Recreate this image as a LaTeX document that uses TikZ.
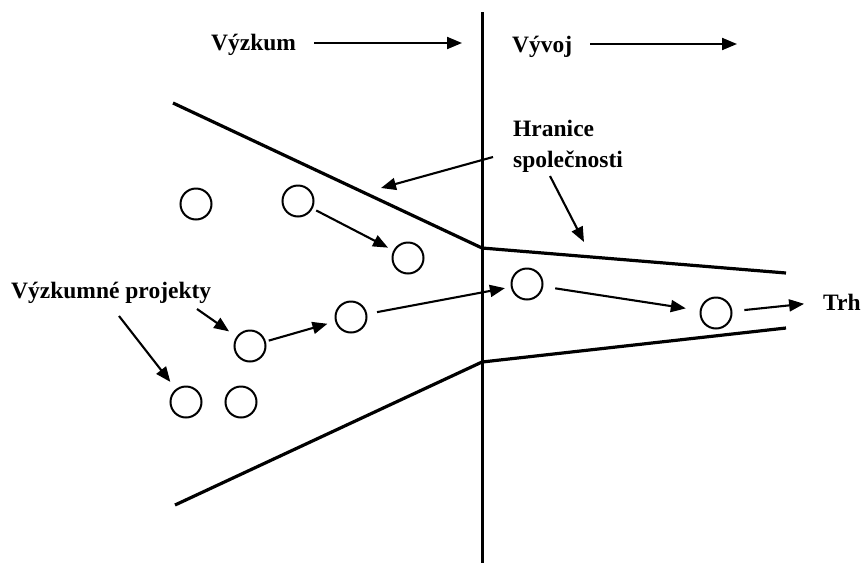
\documentclass[tikz,border=0pt]{standalone}
\usepackage{fontspec}
\setmainfont{Liberation Serif}
\usetikzlibrary{arrows.meta}
\begin{document}
\begin{tikzpicture}[x=1pt,y=-1pt,
  lbl/.style={font=\bfseries\fontsize{23.5}{31}\selectfont, inner sep=0pt, anchor=base west},
  proj/.style={circle, draw, line width=2pt, minimum size=31pt, inner sep=0pt},
  bound/.style={line width=3.2pt, line join=miter},
  arr/.style={line width=2.1pt, -{Triangle[length=15pt,width=12pt]}}]
\useasboundingbox (0,0) rectangle (864,563);

% dividing line between research and development
\coordinate (divTop) at (482,12);
\coordinate (divBot) at (482,563);
\draw[line width=3pt] (divTop) -- (divBot);

% company boundary (funnel)
\coordinate (upL) at (173,103);
\coordinate (upM) at (482,248);
\coordinate (upR) at (786,273);
\coordinate (loL) at (175,505);
\coordinate (loM) at (482,362);
\coordinate (loR) at (786,328);
\draw[bound] (upL) -- (upM) -- (upR);
\draw[bound] (loL) -- (loM) -- (loR);

% phase labels with their direction arrows
\node[lbl] (vyzkum) at (211,50) {Výzkum};
\node[lbl] (vyvoj) at (512,52) {Vývoj};
\coordinate (vyzkumStart) at (314,43);
\coordinate (vyzkumEnd) at (462,43);
\coordinate (vyvojStart) at (590,44);
\coordinate (vyvojEnd) at (737,44);
\draw[arr] (vyzkumStart) -- (vyzkumEnd);
\draw[arr] (vyvojStart) -- (vyvojEnd);

% projects
\node[proj] (p1) at (196,204) {};
\node[proj] (p2) at (298,201) {};
\node[proj] (p3) at (408,258) {};
\node[proj] (p4) at (250,346) {};
\node[proj] (p5) at (351,317) {};
\node[proj] (p6) at (527,284) {};
\node[proj] (p7) at (716,313) {};
\node[proj] (p8) at (186,402) {};
\node[proj] (p9) at (241,402) {};

% project flow
\draw[arr, shorten <=4pt, shorten >=6pt] (p2) -- (p3);
\draw[arr, shorten <=3pt, shorten >=8pt] (p4) -- (p5);
\draw[arr, shorten <=10pt, shorten >=6pt] (p5) -- (p6);
\draw[arr, shorten <=12pt, shorten >=14pt] (p6) -- (p7);

% market
\node[lbl] (trh) at (823,310) {Trh};
\draw[arr, shorten <=12pt, shorten >=19pt] (p7) -- (trh.west);

% company boundary label
\node[lbl, align=left, anchor=north west] (hranice) at (513,120) {Hranice\\společnosti};
\coordinate (hrA) at (493,157);
\coordinate (hrTipA) at (381,188);
\coordinate (hrB) at (550,176);
\coordinate (hrTipB) at (584,242);
\draw[arr] (hrA) -- (hrTipA);
\draw[arr] (hrB) -- (hrTipB);

% research projects label
\node[lbl] (vp) at (11,298) {Výzkumné projekty};
\coordinate (vpA) at (197,309);
\coordinate (vpB) at (119,316);
\draw[arr, shorten >=9pt] (vpA) -- (p4);
\draw[arr, shorten >=9pt] (vpB) -- (p8);
\end{tikzpicture}
\end{document}
